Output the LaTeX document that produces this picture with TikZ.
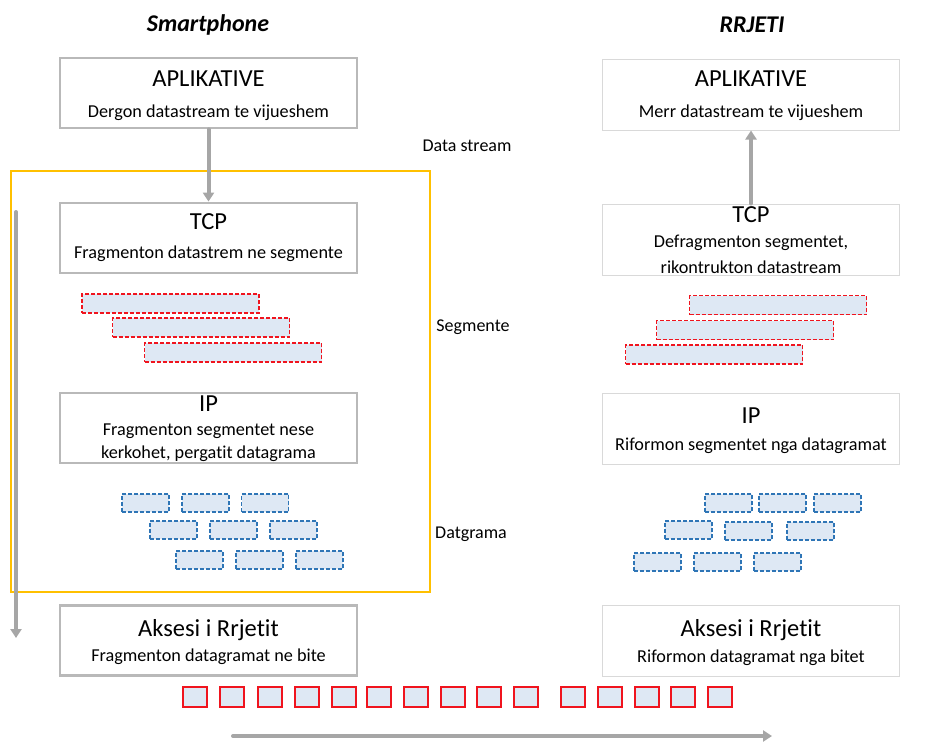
\documentclass[tikz,border=0pt]{standalone}
\usepackage{fontspec}
\setmainfont{Carlito}[Ligatures=NoCommon]
\usetikzlibrary{arrows.meta}
\definecolor{flowgray}{RGB}{166,166,166}
\definecolor{framegold}{RGB}{255,192,0}
\definecolor{cellfill}{RGB}{222,232,244}
\definecolor{cellblue}{RGB}{46,117,182}
\definecolor{cellred}{RGB}{240,20,30}
\tikzset{
  layerL/.style={draw=gray!55, line width=2.8, fill=white, minimum width=297, minimum height=70, inner sep=0},
  layerR/.style={draw=gray!30, line width=1, fill=white, minimum width=297, minimum height=71, inner sep=0},
  big/.style={font=\fontsize{24.5}{28}\selectfont, inner sep=0},
  small/.style={font=\fontsize{18.2}{21}\selectfont, inner sep=0},
  side/.style={font=\fontsize{18}{21}\selectfont, inner sep=0},
  title/.style={font=\fontsize{24}{28}\selectfont\bfseries\itshape, inner sep=0},
  celldash/.style={dash pattern=on 4 off 2},
  segcell/.style={draw=cellred, celldash, line width=1.1, fill=cellfill, minimum width=177, minimum height=19, inner sep=0},
  dgcell/.style={draw=cellblue, celldash, line width=1.1, fill=cellfill, minimum width=47, minimum height=18, inner sep=0},
  bitcell/.style={draw=cellred, line width=1.3, fill=cellfill, minimum width=24, minimum height=20, inner sep=0},
  flow/.style={draw=flowgray, line width=4, line cap=round, -{Triangle[length=9,width=11]}},
}
\begin{document}
\begin{tikzpicture}[x=1pt,y=-1pt]
\useasboundingbox (0,0) rectangle (939,742);

% column titles
\node[title] (tSmart) at (208,25) {Smartphone};
\node[title] (tNet) at (752,25) {RRJETI};

% frame around the fragmenting layers
\draw[framegold, line width=1.5] (11,171) rectangle (430,592);

% sending side layers
\node[layerL] (appL) at (208.5,93) {};
\node[big] (appLt) at (208.5,79) {APLIKATIVE};
\node[small] (appLs) at (208.5,113) {Dergon datastream te vijueshem};

\node[layerL] (tcpL) at (208.5,238) {};
\node[big] (tcpLt) at (208.5,222) {TCP};
\node[small] (tcpLs) at (208.5,254) {Fragmenton datastrem ne segmente};

\node[layerL] (ipL) at (208.5,428) {};
\node[big] (ipLt) at (208.5,404) {IP};
\node[small] (ipLs1) at (208.5,431) {Fragmenton segmentet nese};
\node[small] (ipLs2) at (208.5,454) {kerkohet, pergatit datagrama};

\node[layerL] (accL) at (208.5,640.5) {};
\node[big] (accLt) at (208.5,630) {Aksesi i Rrjetit};
\node[small] (accLs) at (208.5,657) {Fragmenton datagramat ne bite};

% receiving side layers
\node[layerR] (appR) at (751,94.5) {};
\node[big] (appRt) at (751,79) {APLIKATIVE};
\node[small] (appRs) at (751,113) {Merr datastream te vijueshem};

\node[layerR] (tcpR) at (751,239.5) {};
\node[big] (tcpRt) at (751,215) {TCP};
\node[small] (tcpRs1) at (751,243) {Defragmenton segmentet,};
\node[small] (tcpRs2) at (751,267) {rikontrukton datastream};

\node[layerR] (ipR) at (751,428.5) {};
\node[big] (ipRt) at (751,416) {IP};
\node[small] (ipRs) at (751,446) {Riformon segmentet nga datagramat};

\node[layerR] (accR) at (751,640.5) {};
\node[big] (accRt) at (751,630) {Aksesi i Rrjetit};
\node[small] (accRs) at (751,658) {Riformon datagramat nga bitet};

% middle labels
\node[side] (lStream) at (467,146) {Data stream};
\node[side] (lSeg) at (473,327) {Segmente};
\node[side] (lDg) at (471,534) {Datgrama};

% segments
\foreach \x/\y [count=\i] in {170.5/303.5, 201/327.5, 233/352.5}
  \node[segcell] (segL\i) at (\x,\y) {};
\foreach \x/\y [count=\i] in {778/305, 745/330, 714/354.5}
  \node[segcell] (segR\i) at (\x,\y) {};

% datagrams
\foreach \x/\y [count=\i] in {145.5/503, 205.5/503, 265/503,
                               173.5/530, 233.5/530, 293.5/530,
                               199.5/560, 259.5/560, 319.5/560}
  \node[dgcell] (dgL\i) at (\x,\y) {};
\foreach \x/\y [count=\i] in {728.5/503, 782.5/503, 837.5/503,
                               688.5/530, 748.5/531, 810.5/531,
                               657.5/562, 717.5/562, 777.5/562}
  \node[dgcell] (dgR\i) at (\x,\y) {};

% bits on the wire
\foreach \x [count=\i] in {195,232,270,307,344,379,416,453,489,526,573,610,647,683,720}
  \node[bitcell] (bit\i) at (\x,697) {};

% flow arrows
\coordinate (downTop) at (16,212);
\coordinate (downEnd) at (16,638);
\coordinate (wireStart) at (233,736);
\coordinate (wireEnd) at (772,736);
\draw[flow] (appL.south) -- (tcpL.north);
\draw[flow] (tcpR.north) -- (appR.south);
\draw[flow] (downTop) -- (downEnd);
\draw[flow] (wireStart) -- (wireEnd);
\end{tikzpicture}
\end{document}
